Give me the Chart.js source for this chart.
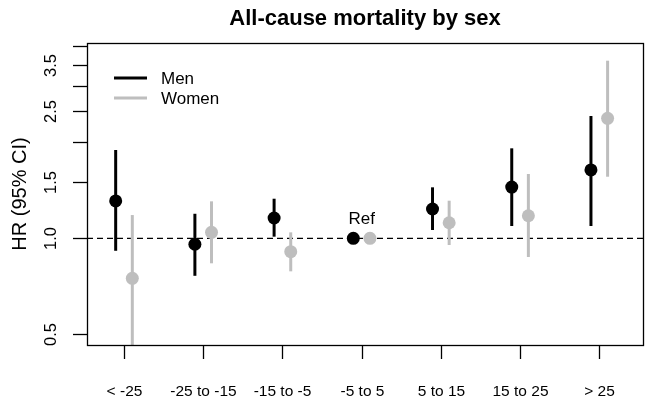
<!DOCTYPE html>
<html>
<head>
<meta charset="utf-8">
<script src="https://cdn.jsdelivr.net/npm/chart.js@4/dist/chart.umd.min.js"></script>
<style>
html,body{margin:0;padding:0;background:#fff;}
#wrap{width:651px;height:399px;position:relative;}
</style>
</head>
<body>
<div id="wrap"><canvas id="c" width="651" height="399"></canvas></div>
<script>
const categories = ["< -25", "-25 to -15", "-15 to -5", "-5 to 5", "5 to 15", "15 to 25", "> 25"];
const menHR    = [1.31, 0.958, 1.158, 1.0, 1.236, 1.448, 1.638];
const menLower = [0.914, 0.763, 1.012, 1.0, 1.062, 1.093, 1.093];
const menUpper = [1.892, 1.194, 1.331, 1.0, 1.445, 1.915, 2.418];
const womenHR    = [0.749, 1.044, 0.908, 1.0, 1.119, 1.177, 2.378];
const womenLower = [0.44, 0.835, 0.788, 1.0, 0.953, 0.874, 1.56];
const womenUpper = [1.183, 1.306, 1.044, 1.0, 1.312, 1.591, 3.605];
const yTicks = [0.5, 1.0, 1.5, 2.0, 2.5, 3.0, 3.5, 4.0];
const yTickLabels = ["0.5", "1.0", "1.5", "", "2.5", "", "3.5", ""];
const refIndex = 3;
const OFF = 0.105;

const MEN_COL = "#000000";
const WOMEN_COL = "#bebebe";
const FONT = "'Liberation Sans', Arial, sans-serif";

function pts(vals, off) { return vals.map((v, i) => ({x: i + off, y: v})); }

const custom = {
  id: 'custom',
  beforeDatasetsDraw(chart) {
    const {ctx, chartArea: a, scales: {x, y}} = chart;
    ctx.save();
    ctx.beginPath();
    ctx.rect(a.left, a.top, a.right - a.left, a.bottom - a.top);
    ctx.clip();
    ctx.strokeStyle = "#000";
    ctx.lineWidth = 1.3;
    ctx.setLineDash([6, 4]);
    const y1 = y.getPixelForValue(1);
    ctx.beginPath(); ctx.moveTo(a.left, y1); ctx.lineTo(a.right, y1); ctx.stroke();
    ctx.setLineDash([]);
    ctx.lineWidth = 3;
    ctx.lineCap = "butt";
    const bars = [[menLower, menUpper, -OFF, MEN_COL], [womenLower, womenUpper, OFF, WOMEN_COL]];
    bars.forEach(([lo, hi, off, col]) => {
      ctx.strokeStyle = col;
      lo.forEach((l, i) => {
        const px = x.getPixelForValue(i + off);
        ctx.beginPath();
        ctx.moveTo(px, y.getPixelForValue(l));
        ctx.lineTo(px, y.getPixelForValue(hi[i]));
        ctx.stroke();
      });
    });
    ctx.restore();
  },
  afterDraw(chart) {
    const {ctx, chartArea: a, scales: {x, y}} = chart;
    ctx.save();
    ctx.strokeStyle = "#000";
    ctx.lineWidth = 1.3;
    ctx.strokeRect(a.left + 0.5, a.top + 0.5, a.right - a.left, a.bottom - a.top);
    ctx.fillStyle = "#000";
    ctx.font = "16.5px " + FONT;
    ctx.textAlign = "center";
    ctx.textBaseline = "middle";
    yTicks.forEach((t, i) => {
      const py = Math.round(y.getPixelForValue(t)) + 0.5;
      ctx.beginPath(); ctx.moveTo(a.left - 14, py); ctx.lineTo(a.left, py); ctx.stroke();
      if (yTickLabels[i]) {
        ctx.save();
        ctx.translate(51, py);
        ctx.rotate(-Math.PI / 2);
        ctx.fillText(yTickLabels[i], 0, 0);
        ctx.restore();
      }
    });
    ctx.font = "15.5px " + FONT;
    ctx.textBaseline = "alphabetic";
    categories.forEach((c, i) => {
      const px = Math.round(x.getPixelForValue(i)) + 0.5;
      ctx.beginPath(); ctx.moveTo(px, a.bottom); ctx.lineTo(px, a.bottom + 14); ctx.stroke();
      ctx.fillText(c, px, 396);
    });
    ctx.textBaseline = "middle";
    ctx.font = "20px " + FONT;
    ctx.save();
    ctx.translate(20, (a.top + a.bottom) / 2);
    ctx.rotate(-Math.PI / 2);
    ctx.fillText("HR (95% CI)", 0, 0);
    ctx.restore();
    ctx.font = "bold 22px " + FONT;
    ctx.textBaseline = "alphabetic";
    ctx.fillText("All-cause mortality by sex", (a.left + a.right) / 2, 25);
    ctx.font = "17px " + FONT;
    ctx.textBaseline = "middle";
    ctx.fillText("Ref", x.getPixelForValue(refIndex), y.getPixelForValue(1) - 19);
    ctx.textAlign = "left";
    ctx.lineWidth = 3;
    [["Men", MEN_COL, 78], ["Women", WOMEN_COL, 98]].forEach(([lab, col, ly]) => {
      ctx.strokeStyle = col;
      ctx.beginPath(); ctx.moveTo(114, ly); ctx.lineTo(147, ly); ctx.stroke();
      ctx.fillStyle = "#000";
      ctx.fillText(lab, 161, ly + 1);
    });
    ctx.restore();
  }
};

new Chart(document.getElementById('c'), {
  type: 'scatter',
  data: {
    datasets: [
      {label: 'Men', data: pts(menHR, -OFF), backgroundColor: MEN_COL, borderColor: MEN_COL, pointRadius: 6.5, pointBorderWidth: 0},
      {label: 'Women', data: pts(womenHR, OFF), backgroundColor: WOMEN_COL, borderColor: WOMEN_COL, pointRadius: 6.5, pointBorderWidth: 0}
    ]
  },
  options: {
    responsive: false,
    animation: false,
    devicePixelRatio: 1,
    layout: {padding: {left: 87, right: 8, top: 43, bottom: 54}},
    plugins: {legend: {display: false}, tooltip: {enabled: false}, title: {display: false}},
    scales: {
      x: {type: 'linear', min: -0.467, max: 6.552, display: false},
      y: {type: 'logarithmic', min: 0.463, max: 4.096, display: false}
    }
  },
  plugins: [custom]
});
</script>
</body>
</html>
